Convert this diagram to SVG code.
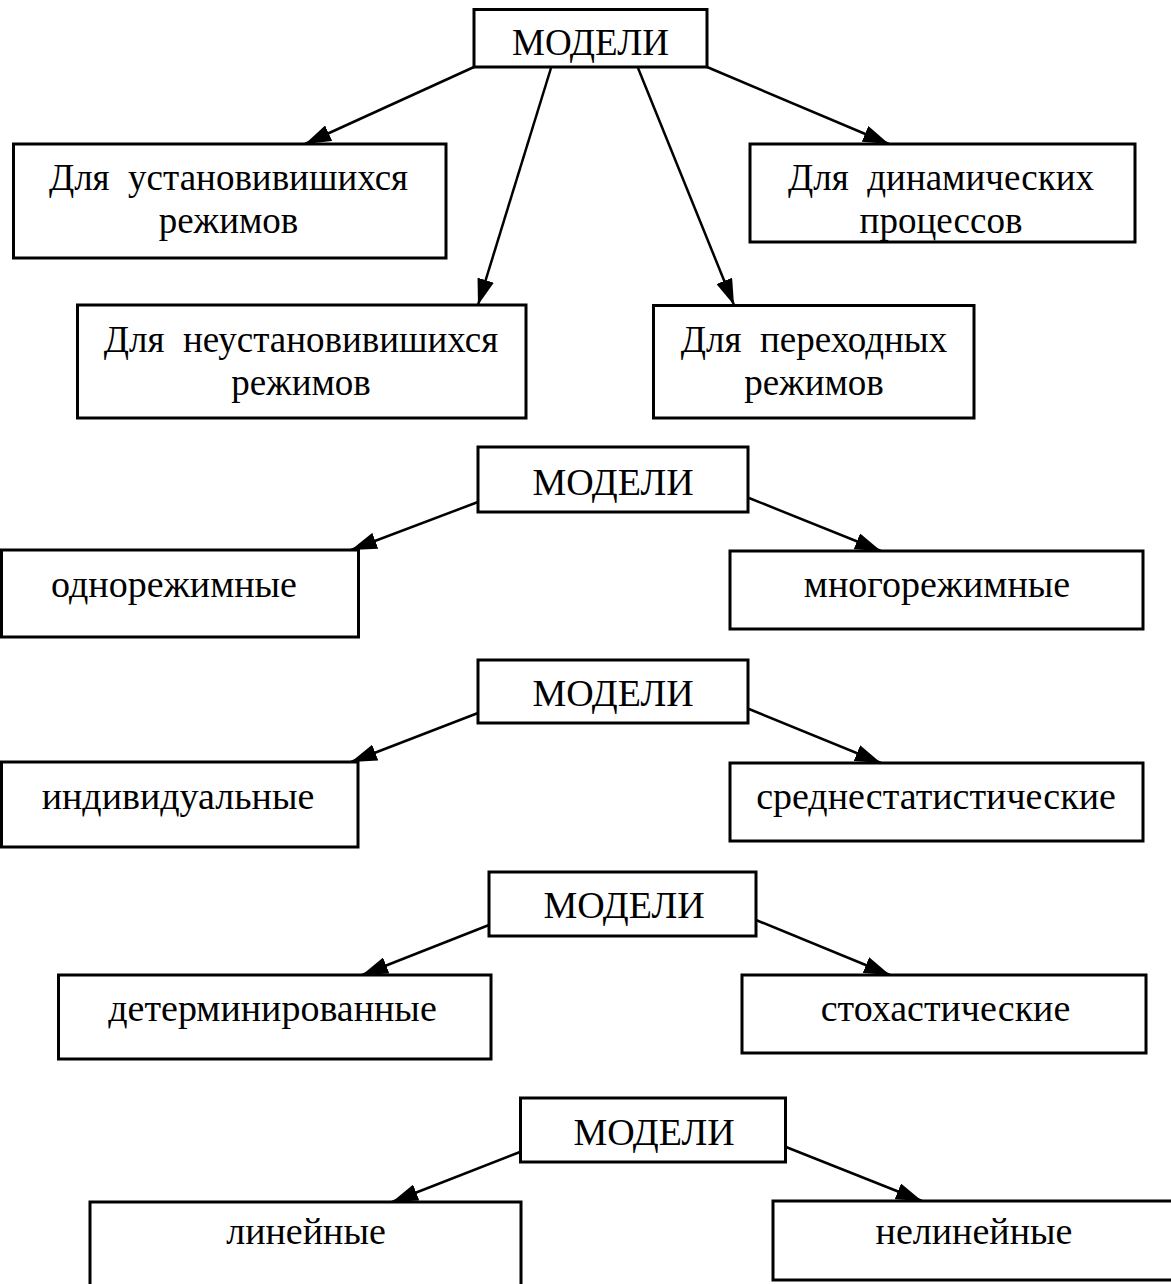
<svg xmlns="http://www.w3.org/2000/svg" width="1171" height="1284" viewBox="0 0 1171 1284">
  <style>
    .box { fill: #fff; stroke: #000; stroke-width: 3; }
    .lbl { font-family: "Liberation Serif", "Times New Roman", serif; font-size: 38px; fill: #000; text-anchor: middle; white-space: pre; }
    .top { font-size: 37px; }
    .edge { stroke: #000; stroke-width: 2.5; fill: none; marker-end: url(#arrow); }
  </style>
  <defs>
    <marker id="arrow" markerUnits="userSpaceOnUse" markerWidth="27" markerHeight="17" refX="26" refY="8.5" orient="auto">
      <path d="M0,0 L26,8.5 L0,17 Z" fill="#000"/>
    </marker>
  </defs>
  <rect width="1171" height="1284" fill="#fff"/>

  <!-- connectors -->
  <g id="connectors">
    <line class="edge" x1="474" y1="67" x2="305" y2="144"/>
    <line class="edge" x1="551" y1="68" x2="478" y2="305"/>
    <line class="edge" x1="707" y1="67" x2="889" y2="144"/>
    <line class="edge" x1="638" y1="68" x2="734" y2="305"/>

    <line class="edge" x1="478" y1="502" x2="351" y2="550"/>
    <line class="edge" x1="749" y1="498" x2="881" y2="551"/>

    <line class="edge" x1="478" y1="713" x2="351" y2="762"/>
    <line class="edge" x1="749" y1="709" x2="881" y2="763"/>

    <line class="edge" x1="489" y1="925" x2="362" y2="975"/>
    <line class="edge" x1="756" y1="920" x2="890" y2="975"/>

    <line class="edge" x1="520" y1="1152" x2="392" y2="1202"/>
    <line class="edge" x1="786" y1="1147" x2="922" y2="1201"/>
  </g>

  <!-- group 1: by operating mode -->
  <g id="models-1">
    <rect class="box" x="474" y="9.5" width="233" height="57.5"/>
    <text class="lbl top" x="590.5" y="55">МОДЕЛИ</text>
  </g>
  <g id="steady">
    <rect class="box" x="13.5" y="144" width="432.5" height="114"/>
    <text class="lbl top" x="228.5" y="190" xml:space="preserve">Для  установивишихся</text>
    <text class="lbl top" x="228.5" y="233">режимов</text>
  </g>
  <g id="unsteady">
    <rect class="box" x="77.5" y="305" width="448.5" height="113"/>
    <text class="lbl top" x="301" y="352" xml:space="preserve">Для  неустановивишихся</text>
    <text class="lbl top" x="301" y="395">режимов</text>
  </g>
  <g id="dynamic">
    <rect class="box" x="750" y="144" width="385" height="98"/>
    <text class="lbl top" x="941" y="190" xml:space="preserve">Для  динамических</text>
    <text class="lbl top" x="941" y="233">процессов</text>
  </g>
  <g id="transient">
    <rect class="box" x="653.5" y="305.5" width="320.5" height="112.5"/>
    <text class="lbl top" x="814" y="352" xml:space="preserve">Для  переходных</text>
    <text class="lbl top" x="814" y="395">режимов</text>
  </g>

  <!-- group 2: number of modes -->
  <g id="models-2">
    <rect class="box" x="478" y="447" width="270" height="65"/>
    <text class="lbl" x="613" y="495">МОДЕЛИ</text>
  </g>
  <g id="single-mode">
    <rect class="box" x="1.5" y="550" width="357" height="87"/>
    <text class="lbl" x="174" y="597">однорежимные</text>
  </g>
  <g id="multi-mode">
    <rect class="box" x="730" y="551" width="413" height="78"/>
    <text class="lbl" x="937" y="597">многорежимные</text>
  </g>

  <!-- group 3: individual / averaged -->
  <g id="models-3">
    <rect class="box" x="478" y="660" width="270" height="63"/>
    <text class="lbl" x="613" y="706">МОДЕЛИ</text>
  </g>
  <g id="individual">
    <rect class="box" x="1.5" y="762" width="356.5" height="85"/>
    <text class="lbl" x="178" y="809">индивидуальные</text>
  </g>
  <g id="averaged">
    <rect class="box" x="730" y="763" width="413" height="78"/>
    <text class="lbl" x="936" y="809">среднестатистические</text>
  </g>

  <!-- group 4: deterministic / stochastic -->
  <g id="models-4">
    <rect class="box" x="489" y="872" width="267" height="64"/>
    <text class="lbl" x="624" y="918">МОДЕЛИ</text>
  </g>
  <g id="deterministic">
    <rect class="box" x="58.5" y="975" width="432.5" height="84"/>
    <text class="lbl" x="272.5" y="1021">детерминированные</text>
  </g>
  <g id="stochastic">
    <rect class="box" x="742" y="975" width="404" height="78"/>
    <text class="lbl" x="945.5" y="1021">стохастические</text>
  </g>

  <!-- group 5: linear / nonlinear -->
  <g id="models-5">
    <rect class="box" x="520.5" y="1098" width="265" height="64"/>
    <text class="lbl" x="654" y="1145">МОДЕЛИ</text>
  </g>
  <g id="linear">
    <rect class="box" x="90" y="1202" width="431" height="90"/>
    <text class="lbl" x="306" y="1244">линейные</text>
  </g>
  <g id="nonlinear">
    <rect class="box" x="773" y="1201" width="410" height="79"/>
    <text class="lbl" x="974" y="1244">нелинейные</text>
  </g>
</svg>
